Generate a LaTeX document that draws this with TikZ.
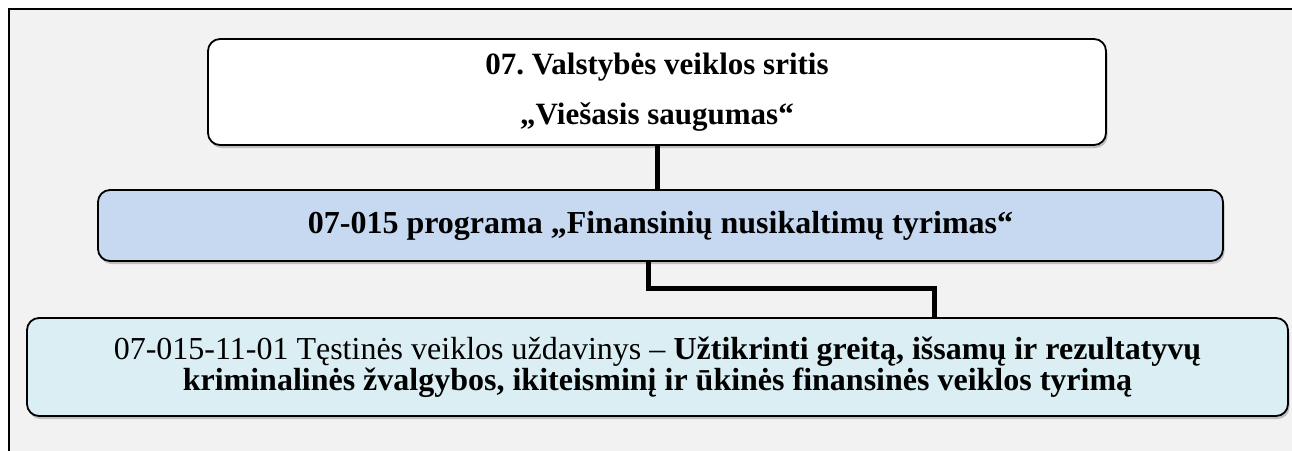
\documentclass[tikz,border=0pt]{standalone}
\usepackage{fontspec}
\setmainfont{Liberation Serif}
\usepackage{tikz}
\usetikzlibrary{shadows}
\definecolor{fonas}{HTML}{F2F2F2}
\definecolor{melyna}{HTML}{C6D9F1}
\definecolor{zydra}{HTML}{DAEEF3}
\frenchspacing
\tikzset{
  laukas/.style = {draw, line width=1.8pt, rounded corners=12pt, align=center,
    drop shadow={shadow xshift=1.5pt, shadow yshift=-3pt, opacity=0.45, fill=gray}},
  jungtis/.style = {line width=5pt, line join=miter}
}

\begin{document}
\begin{tikzpicture}[x=1pt, y=-1pt]
\useasboundingbox (0,0) rectangle (1292,450);
\draw[fill=fonas, line width=1.2pt] (9,9) rectangle (1310,470);
\node[laukas, fill=white, minimum width=898pt, minimum height=106pt,
  font=\fontsize{31}{50}\selectfont\bfseries] (sritis) at (657,92)
  {07. Valstybės veiklos sritis\\„Viešasis saugumas“};
\node[laukas, fill=melyna, minimum width=1125pt, minimum height=71pt,
  font=\fontsize{32}{36}\selectfont\bfseries] (programa) at (660.5,225.5)
  {07-015 programa „Finansinių nusikaltimų tyrimas“};
\node[laukas, fill=zydra, minimum width=1261pt, minimum height=98pt,
  font=\fontsize{32}{31}\selectfont] (uzdavinys) at (657.5,367)
  {07-015-11-01 Tęstinės veiklos uždavinys – \textbf{Užtikrinti greitą, išsamų ir rezultatyvų}\\
   \textbf{kriminalinės žvalgybos, ikiteisminį ir ūkinės finansinės veiklos tyrimą}};
\coordinate (lenkis) at (934,288);
\draw[jungtis] (sritis.south) -- (sritis.south |- programa.north);
\draw[jungtis] ([xshift=-12.5pt]programa.south) |- (lenkis) -- (lenkis |- uzdavinys.north);
\end{tikzpicture}
\end{document}
